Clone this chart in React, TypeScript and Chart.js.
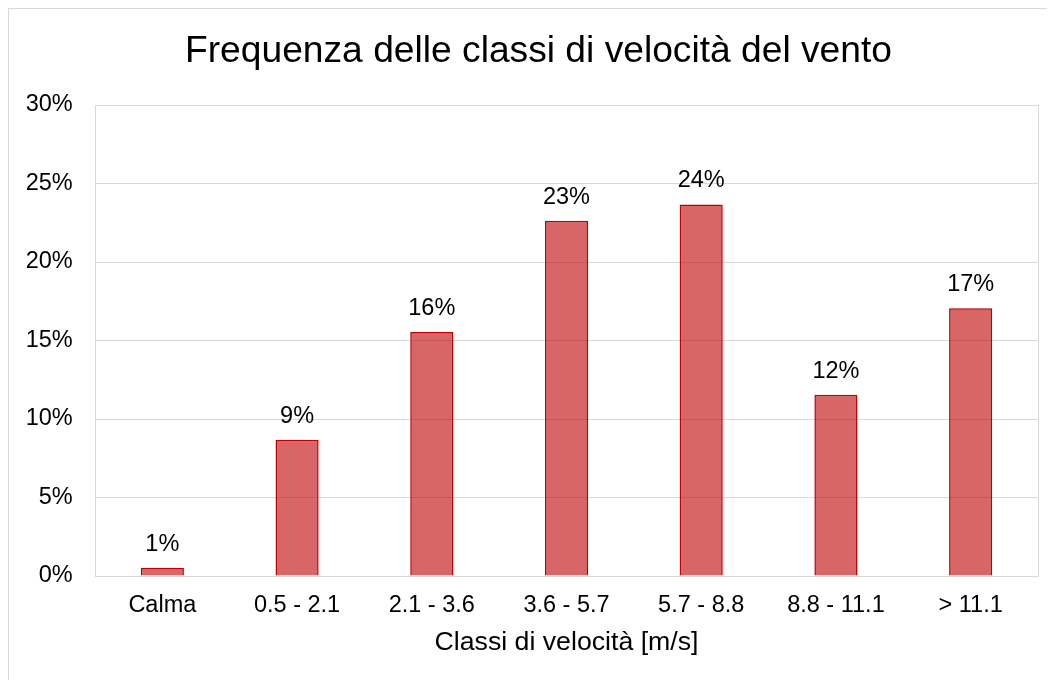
import React, { useEffect, useRef } from "react";
import { Chart, registerables } from "chart.js";

Chart.register(...registerables);

const categories: string[] = ["Calma", "0.5 - 2.1", "2.1 - 3.6", "3.6 - 5.7", "5.7 - 8.8", "8.8 - 11.1", "> 11.1"];
const frequencies: number[] = [0.53, 8.68, 15.54, 22.63, 23.67, 11.55, 17.05];
const yTicks: number[] = [0, 5, 10, 15, 20, 25, 30];

const chartTitle = "Frequenza delle classi di velocità del vento";
const xAxisTitle = "Classi di velocità [m/s]";
const FONT = "'Liberation Sans', Arial, sans-serif";

const frameRight = {
  id: "frameRight",
  beforeDatasetsDraw(chart: any) {
    const { ctx, chartArea } = chart;
    ctx.save();
    ctx.strokeStyle = "#d9d9d9";
    ctx.lineWidth = 1;
    ctx.beginPath();
    const x = Math.round(chartArea.right) + 0.5;
    ctx.moveTo(x, chartArea.top);
    ctx.lineTo(x, chartArea.bottom);
    ctx.stroke();
    ctx.restore();
  },
};

const titleDrawer = {
  id: "titleDrawer",
  afterDraw(chart: any) {
    const { ctx } = chart;
    ctx.save();
    ctx.font = `37.2px ${FONT}`;
    ctx.fillStyle = "#000000";
    ctx.textAlign = "center";
    ctx.textBaseline = "alphabetic";
    ctx.fillText(chartTitle, 529.5, 53.3);
    ctx.restore();
  },
};

const valueLabels = {
  id: "valueLabels",
  afterDatasetsDraw(chart: any) {
    const { ctx } = chart;
    const meta = chart.getDatasetMeta(0);
    const data = chart.data.datasets[0].data as number[];
    ctx.save();
    ctx.font = `23.5px ${FONT}`;
    ctx.fillStyle = "#000000";
    ctx.textAlign = "center";
    ctx.textBaseline = "alphabetic";
    meta.data.forEach((bar: any, i: number) => {
      ctx.fillText(Math.round(data[i]) + "%", bar.x, bar.y - 17);
    });
    ctx.restore();
  },
};

export default function App() {
  const ref = useRef<HTMLCanvasElement | null>(null);
  useEffect(() => {
    document.documentElement.style.overflow = "hidden";
    document.body.style.overflow = "hidden";
    const canvas = ref.current!;
    const chart = new Chart(canvas, {
      type: "bar",
      data: {
        labels: categories,
        datasets: [
          {
            data: frequencies,
            backgroundColor: "rgba(192,0,0,0.6)",
            borderColor: "#c00000",
            borderWidth: 1.5,
            barPercentage: 0.32,
            categoryPercentage: 1,
          },
        ],
      },
      options: {
        responsive: false,
        animation: false,
        devicePixelRatio: 1,
        layout: { padding: { left: 8, right: 17, top: 96, bottom: 21.5 } },
        plugins: {
          legend: { display: false },
          tooltip: { enabled: false },
          title: { display: false },
        },
        scales: {
          x: {
            grid: { display: false, drawTicks: false },
            border: { display: true, color: "#d9d9d9", width: 1 },
            afterFit: (scale: any) => {
              scale.height = 82.5;
            },
            ticks: {
              color: "#000000",
              font: { family: FONT, size: 23.5 },
              padding: 15.1,
              maxRotation: 0,
              autoSkip: false,
            },
            title: {
              display: true,
              text: xAxisTitle,
              color: "#000000",
              font: { family: FONT, size: 26.7 },
              padding: { top: 0, bottom: 0 },
            },
          },
          y: {
            min: 0,
            max: 30,
            afterBuildTicks: (scale: any) => {
              scale.ticks = yTicks.map((v) => ({ value: v }));
            },
            afterFit: (scale: any) => {
              scale.width = 78;
            },
            grid: { color: "#d9d9d9", drawTicks: false, lineWidth: 1 },
            border: { display: true, color: "#d9d9d9", width: 1 },
            ticks: {
              color: "#000000",
              font: { family: FONT, size: 23.5 },
              padding: 22.3,
              callback: (v: any) => v + "%",
            },
          },
        },
      },
      plugins: [frameRight, valueLabels, titleDrawer],
    });
    return () => chart.destroy();
  }, []);
  return (
    <div
      style={{
        width: 1046,
        height: 671,
        borderTop: "1px solid #d9d9d9",
        borderLeft: "1px solid #d9d9d9",
        overflow: "hidden",
      }}
    >
      <canvas ref={ref} width={1046} height={671} style={{ display: "block", width: 1046, height: 671 }} />
    </div>
  );
}
